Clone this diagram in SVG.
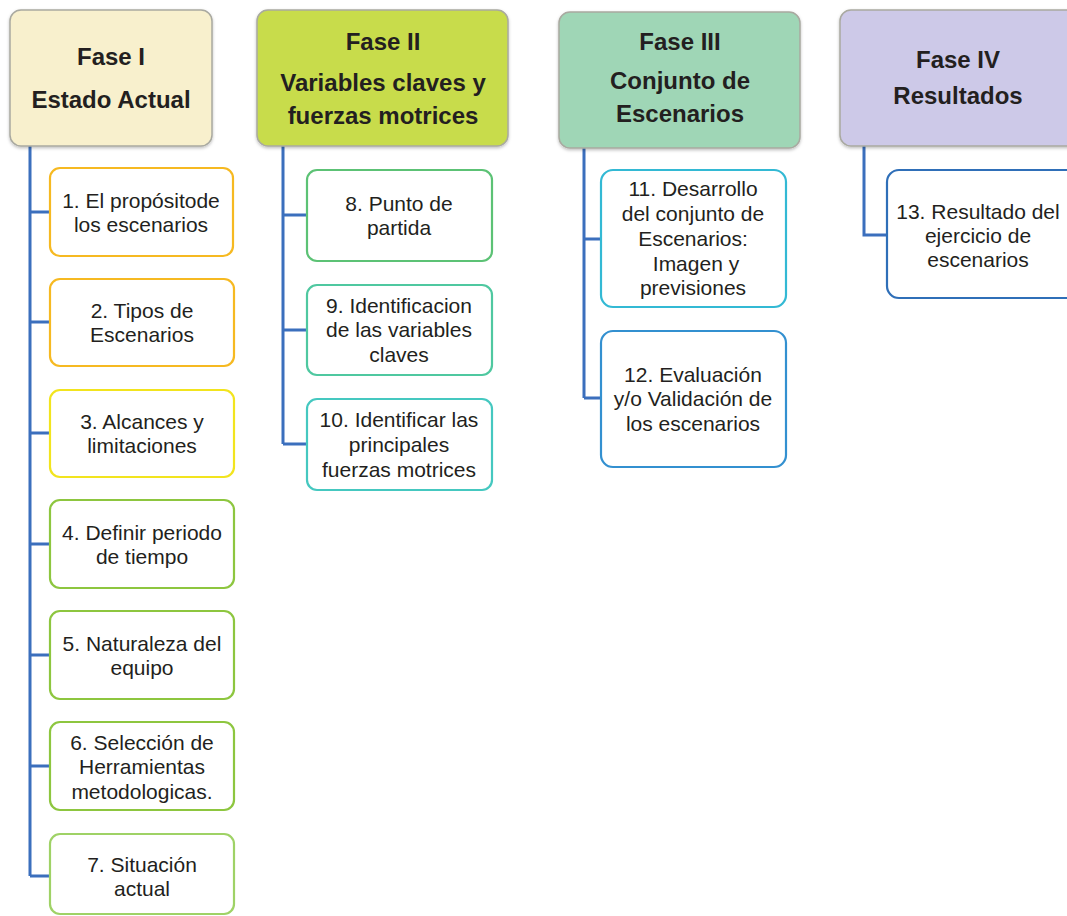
<svg xmlns="http://www.w3.org/2000/svg" width="1067" height="916" viewBox="0 0 1067 916">
  <style>
    .hdr { stroke: #a9a9a0; stroke-width: 1.5; }
    .htxt { font-family: "Liberation Sans", Arial, sans-serif; font-weight: bold; font-size: 24px; fill: #231f20; text-anchor: middle; }
    .box { fill: #ffffff; stroke-width: 2.2; }
    .btxt { font-family: "Liberation Sans", Arial, sans-serif; font-size: 21px; fill: #231f20; text-anchor: middle; }
    .conn { fill: none; stroke: #3b6fbd; stroke-width: 3; stroke-linejoin: miter; }
  </style>
  <defs>
    <filter id="soft" x="-5%" y="-5%" width="110%" height="115%">
      <feDropShadow dx="0" dy="1.5" stdDeviation="1.5" flood-color="#000" flood-opacity="0.25"/>
    </filter>
  </defs>

  <!-- connectors: one trunk per phase with a branch to each step -->
  <g id="connectors">
    <path class="conn" d="M30,146 V876 M30,212 H50 M30,322 H50 M30,433 H50 M30,544 H50 M30,655 H50 M30,766 H50 M30,876 H50"/>
    <path class="conn" d="M283,146 V444 M283,215 H307 M283,330 H307 M283,444 H307"/>
    <path class="conn" d="M584,148 V398 M584,239 H601 M584,398 H601"/>
    <path class="conn" d="M864,146 V235 H887"/>
  </g>

  <!-- phase headers -->
  <g id="fase1">
    <rect class="hdr" x="10" y="10" width="202" height="136" rx="11" fill="#f8f0cd" filter="url(#soft)"/>
    <text class="htxt" x="111" y="65">Fase I</text>
    <text class="htxt" x="111" y="108">Estado Actual</text>
  </g>
  <g id="fase2">
    <rect class="hdr" x="257" y="10" width="251" height="136" rx="11" fill="#c8dc4c" filter="url(#soft)"/>
    <text class="htxt" x="383" y="50">Fase II</text>
    <text class="htxt" x="383" y="91">Variables claves y</text>
    <text class="htxt" x="383" y="124">fuerzas motrices</text>
  </g>
  <g id="fase3">
    <rect class="hdr" x="559" y="12" width="241" height="136" rx="11" fill="#9fd6b6" filter="url(#soft)"/>
    <text class="htxt" x="680" y="50">Fase III</text>
    <text class="htxt" x="680" y="89">Conjunto de</text>
    <text class="htxt" x="680" y="122">Escenarios</text>
  </g>
  <g id="fase4">
    <rect class="hdr" x="840" y="10" width="240" height="136" rx="11" fill="#cdc9e8" filter="url(#soft)"/>
    <text class="htxt" x="958" y="68">Fase IV</text>
    <text class="htxt" x="958" y="104">Resultados</text>
  </g>

  <!-- Fase I steps -->
  <g id="step1">
    <rect class="box" x="50" y="168" width="183" height="88" rx="10" stroke="#f6b921"/>
    <text class="btxt" x="141" y="208">1. El propósitode</text>
    <text class="btxt" x="141" y="232">los escenarios</text>
  </g>
  <g id="step2">
    <rect class="box" x="50" y="279" width="184" height="87" rx="10" stroke="#f6b921"/>
    <text class="btxt" x="142" y="318">2. Tipos de</text>
    <text class="btxt" x="142" y="342">Escenarios</text>
  </g>
  <g id="step3">
    <rect class="box" x="50" y="390" width="184" height="87" rx="10" stroke="#f2e41e"/>
    <text class="btxt" x="142" y="429">3. Alcances y</text>
    <text class="btxt" x="142" y="453">limitaciones</text>
  </g>
  <g id="step4">
    <rect class="box" x="50" y="500" width="184" height="88" rx="10" stroke="#8dc63f"/>
    <text class="btxt" x="142" y="540">4. Definir periodo</text>
    <text class="btxt" x="142" y="564">de tiempo</text>
  </g>
  <g id="step5">
    <rect class="box" x="50" y="611" width="184" height="88" rx="10" stroke="#8dc63f"/>
    <text class="btxt" x="142" y="651">5. Naturaleza del</text>
    <text class="btxt" x="142" y="675">equipo</text>
  </g>
  <g id="step6">
    <rect class="box" x="50" y="722" width="184" height="88" rx="10" stroke="#8dc63f"/>
    <text class="btxt" x="142" y="750">6. Selección de</text>
    <text class="btxt" x="142" y="774">Herramientas</text>
    <text class="btxt" x="142" y="799">metodologicas.</text>
  </g>
  <g id="step7">
    <rect class="box" x="50" y="834" width="184" height="80" rx="10" stroke="#9fd266"/>
    <text class="btxt" x="142" y="872">7. Situación</text>
    <text class="btxt" x="142" y="896">actual</text>
  </g>

  <!-- Fase II steps -->
  <g id="step8">
    <rect class="box" x="307" y="170" width="185" height="91" rx="10" stroke="#5cc275" stroke-width="1.6"/>
    <text class="btxt" x="399" y="211">8. Punto de</text>
    <text class="btxt" x="399" y="235">partida</text>
  </g>
  <g id="step9">
    <rect class="box" x="307" y="285" width="185" height="90" rx="10" stroke="#4fc8a0" stroke-width="1.6"/>
    <text class="btxt" x="399" y="313">9. Identificacion</text>
    <text class="btxt" x="399" y="337">de las variables</text>
    <text class="btxt" x="399" y="362">claves</text>
  </g>
  <g id="step10">
    <rect class="box" x="307" y="399" width="185" height="91" rx="10" stroke="#45c8c0" stroke-width="1.6"/>
    <text class="btxt" x="399" y="427">10. Identificar las</text>
    <text class="btxt" x="399" y="452">principales</text>
    <text class="btxt" x="399" y="477">fuerzas motrices</text>
  </g>

  <!-- Fase III steps -->
  <g id="step11">
    <rect class="box" x="601" y="170" width="185" height="137" rx="12" stroke="#33b9d4" stroke-width="2.6"/>
    <text class="btxt" x="693" y="196">11. Desarrollo</text>
    <text class="btxt" x="693" y="221">del conjunto de</text>
    <text class="btxt" x="693" y="246">Escenarios:</text>
    <text class="btxt" x="696" y="271">Imagen y</text>
    <text class="btxt" x="693" y="295">previsiones</text>
  </g>
  <g id="step12">
    <rect class="box" x="601" y="331" width="185" height="136" rx="12" stroke="#3390d0" stroke-width="2.6"/>
    <text class="btxt" x="693" y="382">12. Evaluación</text>
    <text class="btxt" x="693" y="406">y/o Validación de</text>
    <text class="btxt" x="693" y="431">los escenarios</text>
  </g>

  <!-- Fase IV step -->
  <g id="step13">
    <rect class="box" x="887" y="170" width="200" height="128" rx="12" stroke="#2f6fb8" stroke-width="2.6"/>
    <text class="btxt" x="978" y="219">13. Resultado del</text>
    <text class="btxt" x="978" y="243">ejercicio de</text>
    <text class="btxt" x="978" y="267">escenarios</text>
  </g>
</svg>
